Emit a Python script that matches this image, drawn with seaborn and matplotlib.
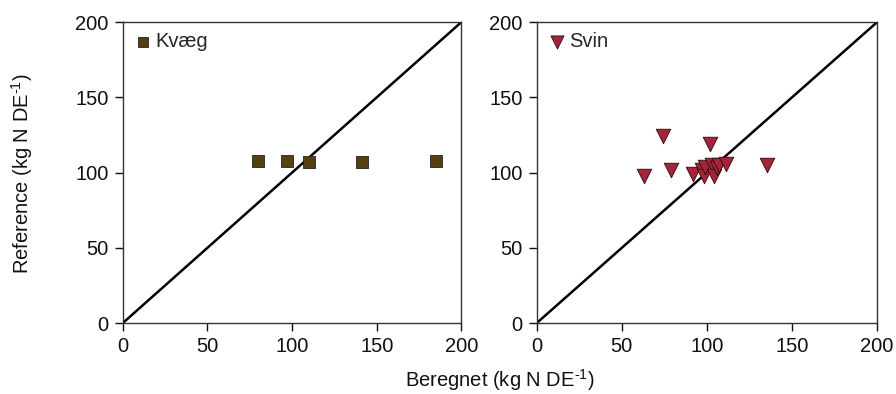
import numpy as np
import pandas as pd
import matplotlib
matplotlib.use("Agg")
import matplotlib.pyplot as plt
import seaborn as sns

# Data
kvaeg_beregnet = [80, 97, 110, 141, 185]
kvaeg_reference = [108, 108, 107, 107, 108]

svin_beregnet = [63, 74, 79, 92, 97, 98, 99, 102, 103, 104, 106, 107, 111, 135]
svin_reference = [98, 124, 102, 99, 102, 98, 104, 119, 105, 98, 103, 105, 106, 105]

ticks = [0, 50, 100, 150, 200]
kvaeg_color = "#55400f"
svin_color = "#a6243a"

sns.set_theme(style="ticks")
plt.rcParams["font.family"] = ["Liberation Sans", "DejaVu Sans"]
plt.rcParams["mathtext.fontset"] = "custom"
plt.rcParams["mathtext.rm"] = "Liberation Sans"
plt.rcParams["mathtext.it"] = "Liberation Sans"

df_k = pd.DataFrame({"Beregnet": kvaeg_beregnet, "Reference": kvaeg_reference})
df_s = pd.DataFrame({"Beregnet": svin_beregnet, "Reference": svin_reference})

fig = plt.figure(figsize=(8.96, 3.94), dpi=100)
ax1 = fig.add_axes([0.137, 0.180, 0.378, 0.764])
ax2 = fig.add_axes([0.599, 0.180, 0.380, 0.764])

sns.scatterplot(data=df_k, x="Beregnet", y="Reference", ax=ax1, marker="s",
                s=75, color=kvaeg_color, edgecolor="#222222", linewidth=0.6,
                label="Kvæg", zorder=3)
sns.scatterplot(data=df_s, x="Beregnet", y="Reference", ax=ax2, marker="v",
                s=110, color=svin_color, edgecolor="#2a0a0f", linewidth=0.6,
                label="Svin", zorder=3)

fs = 14.5
for ax in (ax1, ax2):
    ax.plot([0, 200], [0, 200], color="black", lw=1.8, zorder=2)
    ax.set_xlim(0, 200)
    ax.set_ylim(0, 200)
    ax.set_xticks(ticks)
    ax.set_yticks(ticks)
    ax.set_xlabel("")
    ax.set_ylabel("")
    ax.tick_params(direction="out", length=6, width=1, labelsize=fs,
                   colors="#111111", pad=4)
    for sp in ax.spines.values():
        sp.set_visible(True)
        sp.set_linewidth(1.0)
        sp.set_color("#333333")
    leg = ax.legend(loc="upper left", frameon=False, fontsize=fs,
                    handletextpad=0.1, borderaxespad=0.1, markerscale=0.9,
                    handlelength=1.0)

fig.text(0.025, 0.56, r"Reference (kg N DE$^{\text{-1}}$)", rotation=90,
         ha="center", va="center", fontsize=fs, color="#111111")
fig.text(0.558, 0.036, r"Beregnet (kg N DE$^{\text{-1}}$)", ha="center",
         va="center", fontsize=fs, color="#111111")

fig.savefig("out.png", dpi=100)
